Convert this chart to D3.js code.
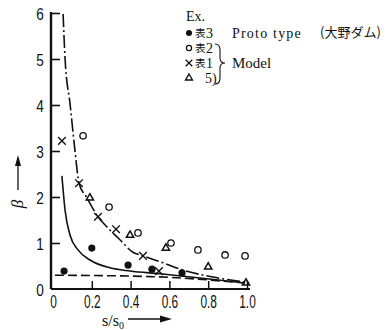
<!DOCTYPE html>
<html>
<head>
<meta charset="utf-8">
<script src="https://cdn.jsdelivr.net/npm/d3@7"></script>
<style>
  body { margin: 0; background: #fff; }
  svg text { fill: #111; }
</style>
</head>
<body>
<figure id="chart" style="margin:0"></figure>
<script>
// points (s/s0, beta)
const protoS = [0.057, 0.2, 0.387, 0.51, 0.665];
const protoB = [0.39, 0.89, 0.52, 0.43, 0.35];
const tab2S = [0.155, 0.289, 0.438, 0.608, 0.747, 0.887, 0.99];
const tab2B = [3.33, 1.78, 1.22, 1.0, 0.85, 0.74, 0.72];
const tab1S = [0.046, 0.134, 0.232, 0.325, 0.464, 0.546];
const tab1B = [3.22, 2.30, 1.57, 1.30, 0.72, 0.39];
const ref5S = [0.19, 0.397, 0.582, 0.8, 0.995];
const ref5B = [1.98, 1.17, 0.89, 0.48, 0.13];

// curves
const upperS = [0.052, 0.062, 0.088, 0.113, 0.134, 0.175, 0.232, 0.278, 0.345, 0.412, 0.464, 0.567, 0.67, 0.825, 0.99];
const upperB = [5.98, 5.02, 4.02, 3.02, 2.30, 1.98, 1.57, 1.35, 1.07, 0.80, 0.72, 0.57, 0.41, 0.26, 0.15];
const midS = [0.046, 0.062, 0.088, 0.129, 0.191, 0.294, 0.397, 0.552, 0.758, 0.99];
const midB = [2.46, 1.72, 1.17, 0.85, 0.63, 0.46, 0.39, 0.33, 0.24, 0.13];
const lowS = [0.01, 0.5, 0.99];
const lowB = [0.30, 0.27, 0.13];

const xTicks = [0, 0.2, 0.4, 0.6, 0.8, 1.0];
const yTicks = [0, 1, 2, 3, 4, 5, 6];

const width = 392, height = 330;
const svg = d3.select("#chart").append("svg")
  .attr("width", width).attr("height", height);

const x = d3.scaleLinear().domain([0, 1]).range([53, 247]);
const y = d3.scaleLinear().domain([0, 6]).range([289, 13]);

const zip = (a, b) => a.map((v, i) => [v, b[i]]);

// X axis (ticks pointing up)
const xAxis = svg.append("g")
  .attr("transform", "translate(0," + y(0) + ")")
  .call(d3.axisBottom(x).tickValues(xTicks).tickSizeInner(-8).tickSizeOuter(0)
    .tickFormat(d => d === 0 ? "0" : d3.format(".1f")(d)));
xAxis.select(".domain").attr("d", "M51,0H250").attr("stroke", "#111").attr("stroke-width", 2.2);
xAxis.selectAll(".tick line").attr("stroke", "#111").attr("stroke-width", 1.5);
xAxis.selectAll(".tick").filter(d => d === 0).select("line").remove();
xAxis.selectAll(".tick text")
  .attr("y", 19).attr("dy", 0)
  .attr("transform", "scale(0.66,1)")
  .style("font-family", "Liberation Sans, Arial, sans-serif")
  .style("font-size", "18px").attr("fill", "#111");

// Y axis (ticks pointing right)
const yAxis = svg.append("g")
  .attr("transform", "translate(51,0)")
  .call(d3.axisLeft(y).tickValues(yTicks).tickSizeInner(-9).tickSizeOuter(0)
    .tickFormat(d3.format("d")));
yAxis.select(".domain").attr("d", "M0," + y(0) + "V" + (y(6) - 1)).attr("stroke", "#111").attr("stroke-width", 2.4);
yAxis.selectAll(".tick line").attr("stroke", "#111").attr("stroke-width", 1.6);
yAxis.selectAll(".tick").filter(d => d === 0).select("line").remove();
yAxis.selectAll(".tick text")
  .attr("x", -9).attr("dy", "0.36em")
  .attr("transform", "scale(0.8,1)")
  .style("font-family", "Liberation Sans, Arial, sans-serif")
  .style("font-size", "17px").attr("fill", "#111");

// curves
const line = d3.line().x(d => x(d[0])).y(d => y(d[1])).curve(d3.curveMonotoneX);
svg.append("path").datum(zip(upperS, upperB)).attr("d", line)
  .attr("fill", "none").attr("stroke", "#111").attr("stroke-width", 1.6)
  .attr("stroke-dasharray", "13,3,2,3");
svg.append("path").datum(zip(midS, midB)).attr("d", line)
  .attr("fill", "none").attr("stroke", "#111").attr("stroke-width", 1.6);
svg.append("path").datum(zip(lowS, lowB)).attr("d", line)
  .attr("fill", "none").attr("stroke", "#111").attr("stroke-width", 1.6)
  .attr("stroke-dasharray", "9,4");

// markers
svg.selectAll("circle.proto").data(zip(protoS, protoB)).enter().append("circle")
  .attr("class", "proto").attr("cx", d => x(d[0])).attr("cy", d => y(d[1]))
  .attr("r", 3.6).attr("fill", "#111");
svg.selectAll("circle.tab2").data(zip(tab2S, tab2B)).enter().append("circle")
  .attr("class", "tab2").attr("cx", d => x(d[0])).attr("cy", d => y(d[1]))
  .attr("r", 3.2).attr("fill", "none").attr("stroke", "#111").attr("stroke-width", 1.3);
const cross = d3.symbol().type(d3.symbolTimes).size(40);
svg.selectAll("path.tab1").data(zip(tab1S, tab1B)).enter().append("path")
  .attr("class", "tab1").attr("d", cross)
  .attr("transform", d => "translate(" + x(d[0]) + "," + y(d[1]) + ")")
  .attr("fill", "none").attr("stroke", "#111").attr("stroke-width", 1.4);
const tri = d3.symbol().type(d3.symbolTriangle2).size(38);
svg.selectAll("path.ref5").data(zip(ref5S, ref5B)).enter().append("path")
  .attr("class", "ref5").attr("d", tri)
  .attr("transform", d => "translate(" + x(d[0]) + "," + y(d[1]) + ")")
  .attr("fill", "none").attr("stroke", "#111").attr("stroke-width", 1.5);

// axis titles
const yt = svg.append("g").attr("transform", "translate(17,204)");
yt.append("text").attr("transform", "rotate(-90)").attr("text-anchor", "middle").attr("dy", "0.35em")
  .style("font-family", "Liberation Serif, serif").style("font-style", "italic").style("font-size", "17px")
  .text("β");
svg.append("line").attr("x1", 18).attr("x2", 18).attr("y1", 190).attr("y2", 162)
  .attr("stroke", "#111").attr("stroke-width", 1.3);
svg.append("path").attr("d", "M18,155L15,166L21,166Z").attr("fill", "#111");

const xt = svg.append("text").attr("x", 102).attr("y", 326)
  .style("font-family", "Liberation Serif, serif").style("font-size", "16px");
xt.append("tspan").text("s/s");
xt.append("tspan").attr("dy", 3).style("font-size", "10px").text("0");
svg.append("line").attr("x1", 128).attr("x2", 163).attr("y1", 319).attr("y2", 319)
  .attr("stroke", "#111").attr("stroke-width", 1.3);
svg.append("path").attr("d", "M172,319L160,315.5L160,322.5Z").attr("fill", "#111");

// legend
const serif = "'Liberation Serif', serif";
const cjk = "'Noto Sans CJK JP', sans-serif";
const lg = svg.append("g").style("font-family", serif).style("font-size", "14px");
lg.append("text").attr("x", 186).attr("y", 21).text("Ex.");
lg.append("circle").attr("cx", 189).attr("cy", 33).attr("r", 3).attr("fill", "#111");
lg.append("circle").attr("cx", 189).attr("cy", 48).attr("r", 2.6).attr("fill", "none").attr("stroke", "#111").attr("stroke-width", 1.2);
lg.append("path").attr("d", d3.symbol().type(d3.symbolTimes).size(30))
  .attr("transform", "translate(189,63)").attr("fill", "none").attr("stroke", "#111").attr("stroke-width", 1.3);
lg.append("path").attr("d", d3.symbol().type(d3.symbolTriangle2).size(34))
  .attr("transform", "translate(189,78)").attr("fill", "none").attr("stroke", "#111").attr("stroke-width", 1.4);

// the 表 glyphs as separate small texts so the rows keep their tight spacing
const hyo = [[38, "3"], [53, "2"], [68, "1"]];
hyo.forEach(([yy, n]) => {
  lg.append("text").attr("x", 195).attr("y", yy - 1)
    .style("font-family", cjk).style("font-size", "10.5px").text("表");
  lg.append("text").attr("x", 206).attr("y", yy).text(n);
});
lg.append("text").attr("x", 232).attr("y", 38).style("letter-spacing", "1.2px").text("Proto type");
lg.append("text").attr("x", 320).attr("y", 37).style("font-family", cjk).style("font-size", "13px").text("(大野ダム)");
lg.append("text").attr("x", 205).attr("y", 83).text("5)");

lg.append("path")
  .attr("d", "M215,44Q220,44 220,50L220,58Q220,63 225,63Q220,63 220,68L220,78Q220,84 215,84")
  .attr("fill", "none").attr("stroke", "#111").attr("stroke-width", 1.1);
lg.append("text").attr("x", 232).attr("y", 68).style("font-size", "15px").text("Model");
</script>
</body>
</html>
